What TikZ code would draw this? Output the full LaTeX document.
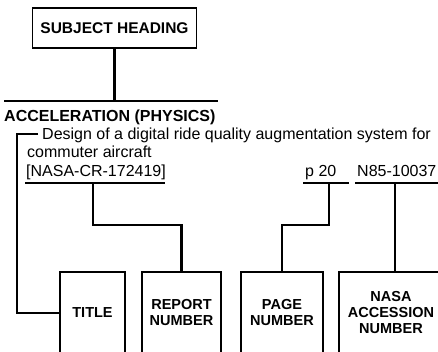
\documentclass[tikz,border=0pt]{standalone}
\usepackage{fontspec}
\setmainfont{Liberation Sans}
\usepackage{tikz}
\usetikzlibrary{positioning,calc}
\tikzset{
  headbox/.style={draw,line width=1.8pt,minimum width=164pt,minimum height=40pt,inner sep=0pt,font=\bfseries\fontsize{15.5}{17}\selectfont},
  heading/.style={inner sep=0pt,anchor=base west,font=\bfseries\fontsize{16}{17}\selectfont},
  entry/.style={inner sep=0pt,anchor=base west,font=\fontsize{16}{18}\selectfont},
  field/.style={inner sep=0pt,minimum height=82pt,align=center,font=\bfseries\fontsize{14.5}{16}\selectfont},
  rule/.style={line width=2.2pt},
  frame/.style={line width=1.8pt}
}
\begin{document}
\begin{tikzpicture}[x=1pt,y=-1pt]
  \clip (0,0) rectangle (438,351);
  \fill[white] (0,0) rectangle (438,351);

  % heading and the sample entry
  \node[headbox] (subject) at (114.5,28) {SUBJECT HEADING};
  \node[heading] (accel) at (4,121) {ACCELERATION (PHYSICS)};
  \node[entry] (design) at (42,139) {Design of a digital ride quality augmentation system for};
  \node[entry] (commuter) at (27,157) {commuter aircraft};
  \node[entry] (report) at (26,176) {[NASA-CR-172419]};
  \node[entry] (page) at (305,176) {p 20};
  \node[entry] (accession) at (357,176) {N85-10037};

  % field names
  \node[field,minimum width=65pt] (title) at (92.5,313) {TITLE};
  \node[field,minimum width=79pt] (repno) at (181.5,313) {REPORT\\NUMBER};
  \node[field,minimum width=82pt] (pageno) at (282,313) {PAGE\\NUMBER};
  \node[field,minimum width=104pt] (nasano) at (391,313) {NASA\\ACCESSION\\NUMBER};
  \foreach \n in {title,repno,pageno,nasano}{
    \draw[frame] (\n.south west) |- (\n.north east) -- (\n.south east);
  }

  % underlines
  \coordinate (headL) at (4,101);
  \coordinate (headR) at (218,101);
  \coordinate (repL) at (25,183);
  \coordinate (repR) at (165,183);
  \coordinate (repT) at (93,183);
  \coordinate (pageL) at (303,183);
  \coordinate (pageR) at (349,183);
  \coordinate (pageT) at (329,183);
  \coordinate (accL) at (355,183);
  \coordinate (accR) at (440,183);
  \coordinate (accT) at (395,183);
  \coordinate (tick) at (38,134);
  \coordinate (corner) at (17,134);

  \draw[rule] (headL) -- (headR);
  \draw[rule] (repL) -- (repR);
  \draw[rule] (pageL) -- (pageR);
  \draw[rule] (accL) -- (accR);

  % connectors
  \draw[rule] (subject.south) -- (subject.south |- headL);
  \draw[rule] (tick) -- (corner) |- (title.west);
  \draw[rule] (repT) -- ++(0,42) -| (repno.north);
  \draw[rule] (pageT) -- ++(0,42) -| (pageno.north);
  \draw[rule] (accT) -- (accT |- nasano.north);
\end{tikzpicture}
\end{document}
